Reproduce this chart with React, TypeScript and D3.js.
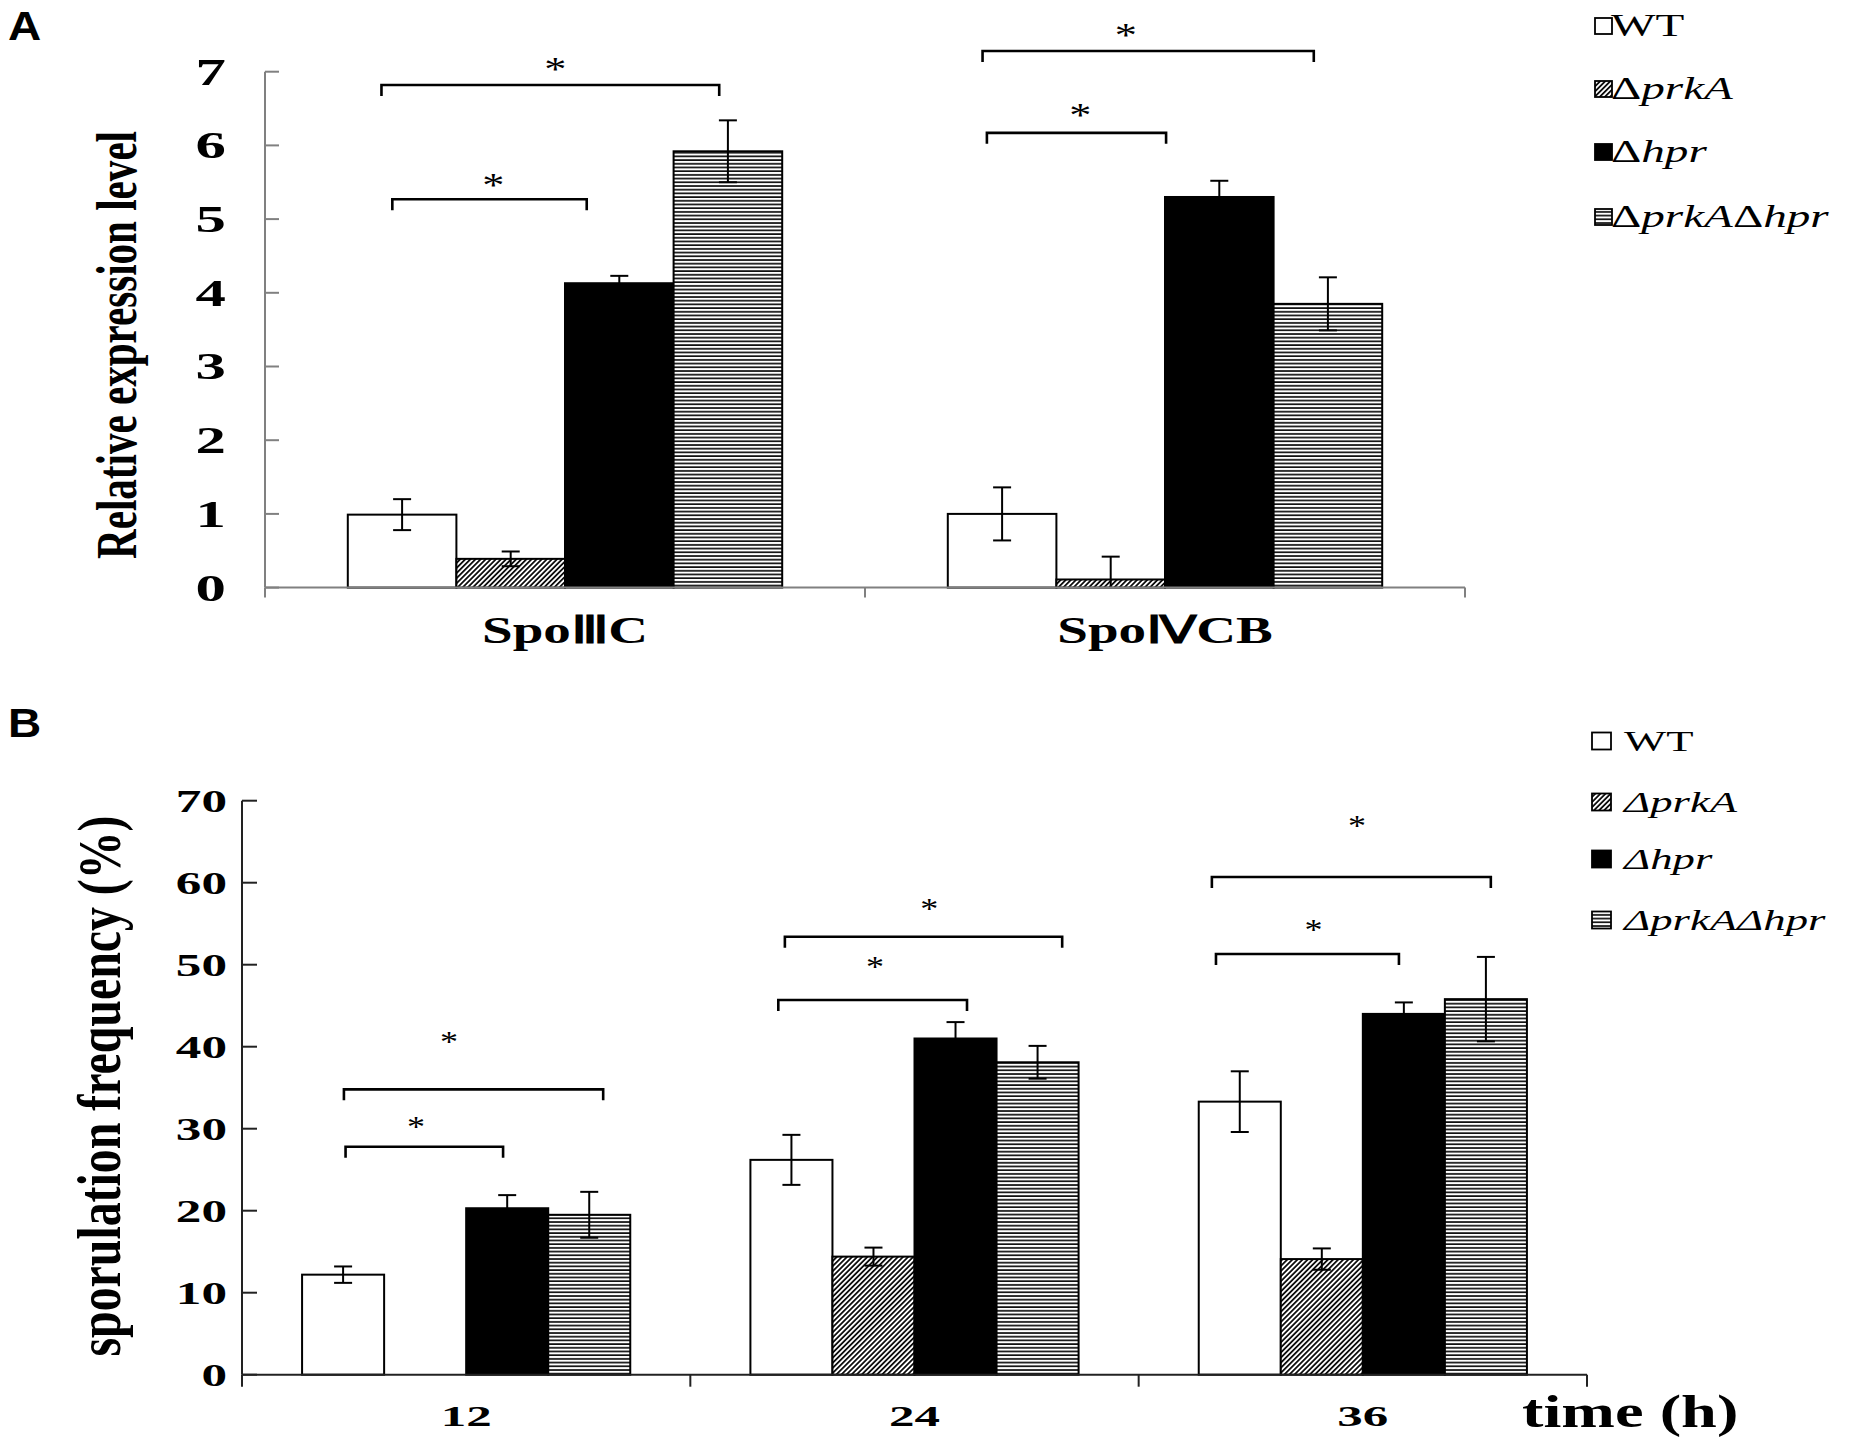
import React from 'react';
import * as d3 from 'd3';

// strains (legend order)
const strains = ["WT", "ΔprkA", "Δhpr", "ΔprkAΔhpr"];

// panel A: relative expression
const genes = ["SpoⅢC", "SpoⅣCB"];
const exprWT = [0.99, 1.0];
const exprPrkA = [0.39, 0.11];
const exprHpr = [4.13, 5.3];
const exprDouble = [5.92, 3.85];
const exprErrWT = [0.21, 0.36];
const exprErrPrkA = [0.1, 0.31];
const exprErrHpr = [0.1, 0.22];
const exprErrDouble = [0.42, 0.36];
const exprTicks = [0, 1, 2, 3, 4, 5, 6, 7];

// panel B: sporulation frequency
const times = ["12", "24", "36"];
const sporWT = [12.2, 26.2, 33.3];
const sporPrkA = [0, 14.4, 14.1];
const sporHpr = [20.3, 41.0, 44.0];
const sporDouble = [19.5, 38.1, 45.8];
const sporErrWT = [1.0, 3.05, 3.7];
const sporErrPrkA = [0, 1.1, 1.3];
const sporErrHpr = [1.6, 2.0, 1.4];
const sporErrDouble = [2.8, 2.0, 5.15];
const sporTicks = [0, 10, 20, 30, 40, 50, 60, 70];

// significance brackets: group, span in bar units, bracket level, star level, star position
const bracketsA = [
  { g: 0, from: 0.31, to: 3.42, level: 6.82, star: 7.12, sx: 1.91 },
  { g: 0, from: 0.41, to: 2.2, level: 5.27, star: 5.55, sx: 1.34 },
  { g: 1, from: 0.32, to: 3.37, level: 7.28, star: 7.58, sx: 1.64 },
  { g: 1, from: 0.36, to: 2.01, level: 6.17, star: 6.5, sx: 1.22 },
];
const bracketsB = [
  { g: 0, from: 0.51, to: 3.67, level: 34.8, star: 41.3, sx: 1.79 },
  { g: 0, from: 0.53, to: 2.45, level: 27.8, star: 31.0, sx: 1.39 },
  { g: 1, from: 0.42, to: 3.8, level: 53.4, star: 57.5, sx: 2.18 },
  { g: 1, from: 0.34, to: 2.64, level: 45.7, star: 50.5, sx: 1.52 },
  { g: 2, from: 0.16, to: 3.56, level: 60.7, star: 67.6, sx: 1.93 },
  { g: 2, from: 0.21, to: 2.44, level: 51.3, star: 55.0, sx: 1.4 },
];

const fills = ["#ffffff", "url(#hatchDiag)", "#000000", "url(#hatchHoriz)"];
const SERIF = "'Liberation Serif', 'Times New Roman', serif";
const SANS = "'Liberation Sans', Arial, sans-serif";

type TxtProps = {
  x: number; y: number; sx?: number; size: number; anchor?: string;
  weight?: string | number; italic?: boolean; family?: string; rot?: boolean;
  len?: number; children: React.ReactNode;
};
const Txt = ({ x, y, sx = 1, size, anchor = "start", weight = "normal", italic, family = SERIF, rot, len, children }: TxtProps) => (
  <text
    transform={`translate(${x},${y}) scale(${sx},1)${rot ? " rotate(-90)" : ""}`}
    fontSize={size}
    fontFamily={family}
    fontWeight={weight}
    fontStyle={italic ? "italic" : "normal"}
    textAnchor={anchor}
    fill="#000"
    {...(len ? { textLength: len, lengthAdjust: "spacingAndGlyphs" } : {})}
  >
    {children}
  </text>
);

type PanelProps = {
  cats: string[];
  values: number[][];
  errors: number[][];
  brackets: typeof bracketsA;
  ticks: number[];
  x: d3.ScaleBand<string>;
  y: d3.ScaleLinear<number, number>;
  axisColor: string;
  yTickLen: number;
  xTickLen: number;
  tickRight: number;
  tickSize: number;
  tickSx: number;
  catY: number;
  catSize: number;
  catSx: number;
  starSize: number;
  starSx: number;
};

const Panel = (p: PanelProps) => {
  const { x, y } = p;
  const sub = d3.scaleBand<string>().domain(strains).range([0, x.bandwidth()]);
  const bw = sub.bandwidth();
  const y0 = y(0);
  const [r0] = x.range();
  const bounds = d3.range(p.cats.length + 1).map(i => r0 + i * x.step());
  const yTop = y(p.ticks[p.ticks.length - 1]);
  return (
    <g>
      {/* bars */}
      {p.cats.map((c, ci) =>
        strains.map((s, si) => {
          const v = p.values[si][ci];
          if (v <= 0) return null;
          return (
            <rect key={c + s} x={(x(c) as number) + (sub(s) as number)} y={y(v)}
              width={bw} height={y0 - y(v)} fill={fills[si]} stroke="#000" strokeWidth={2} />
          );
        })
      )}
      {/* error bars */}
      {p.cats.map((c, ci) =>
        strains.map((s, si) => {
          const v = p.values[si][ci];
          const e = p.errors[si][ci];
          if (!e) return null;
          const cx = (x(c) as number) + (sub(s) as number) + bw / 2;
          const lo = Math.max(0, v - e);
          return (
            <g key={"e" + c + s} stroke="#000" strokeWidth={2}>
              <line x1={cx} x2={cx} y1={y(v + e)} y2={y(lo)} />
              <line x1={cx - 9} x2={cx + 9} y1={y(v + e)} y2={y(v + e)} />
              {lo > 0 && <line x1={cx - 9} x2={cx + 9} y1={y(lo)} y2={y(lo)} />}
            </g>
          );
        })
      )}
      {/* axes */}
      <g stroke={p.axisColor} strokeWidth={2} fill="none">
        <line x1={bounds[0]} x2={bounds[0]} y1={yTop} y2={y0} />
        <line x1={bounds[0]} x2={bounds[bounds.length - 1]} y1={y0} y2={y0} />
        {p.ticks.map(t => (
          <line key={t} x1={bounds[0]} x2={bounds[0] + p.yTickLen} y1={y(t)} y2={y(t)} />
        ))}
        {bounds.map((b, i) => (
          <line key={i} x1={b} x2={b} y1={y0} y2={y0 + p.xTickLen} />
        ))}
      </g>
      {p.ticks.map(t => (
        <Txt key={t} x={p.tickRight} y={y(t) + p.tickSize * 0.34} sx={p.tickSx} size={p.tickSize}
          anchor="end" weight="bold">{t}</Txt>
      ))}
      {p.cats.map(c => (
        <Txt key={c} x={(x(c) as number) + x.bandwidth() / 2} y={p.catY} sx={p.catSx} size={p.catSize}
          anchor="middle" weight="bold">{c}</Txt>
      ))}
      {/* significance brackets */}
      {p.brackets.map((b, i) => {
        const gx = x(p.cats[b.g]) as number;
        const x1 = gx + b.from * bw;
        const x2 = gx + b.to * bw;
        const by = y(b.level);
        return (
          <g key={"b" + i}>
            <path d={`M${x1},${by + 11}V${by}H${x2}V${by + 11}`} fill="none" stroke="#000" strokeWidth={2.6} />
            <Txt x={gx + b.sx * bw} y={y(b.star) + p.starSize * 0.5} sx={p.starSx} size={p.starSize}
              anchor="middle">*</Txt>
          </g>
        );
      })}
    </g>
  );
};

const Legend = ({ x, tx, rows, size, sx, bwid, bh, italicDelta }: {
  x: number; tx: number; rows: number[]; size: number; sx: number; bwid: number; bh: number; italicDelta: boolean;
}) => {
  const parts = (name: string) => {
    if (name === "WT") return [<tspan key="w">WT</tspan>];
    return name.split(/(Δ)/).filter(Boolean).map((t, i) => (
      <tspan key={i} fontStyle={t === "Δ" && !italicDelta ? "normal" : "italic"}>{t}</tspan>
    ));
  };
  return (
    <g>
      {strains.map((s, i) => (
        <g key={s}>
          <rect x={x} y={rows[i] - bh / 2} width={bwid} height={bh} fill={fills[i]} stroke="#000" strokeWidth={1.8} />
          <Txt x={tx} y={rows[i] + size * 0.33} sx={sx} size={size}>{parts(s)}</Txt>
        </g>
      ))}
    </g>
  );
};

export default function App() {
  const xA = d3.scaleBand<string>().domain(genes).range([265, 1465]).paddingInner(0.276).paddingOuter(0.138);
  const yA = d3.scaleLinear().domain([0, 7]).range([587.6, 71.7]);
  const xB = d3.scaleBand<string>().domain(times).range([242, 1587]).paddingInner(0.268).paddingOuter(0.134);
  const yB = d3.scaleLinear().domain([0, 70]).range([1374.7, 800.7]);

  return (
    <svg width={1866} height={1445} style={{ position: "absolute", left: 0, top: 0, background: "#fff" }}>
      <defs>
        <pattern id="hatchDiag" width={3.6} height={3.6} patternUnits="userSpaceOnUse" patternTransform="rotate(45)">
          <rect width={3.6} height={3.6} fill="#fff" />
          <line x1={0.9} y1={0} x2={0.9} y2={3.6} stroke="#000" strokeWidth={1.7} />
        </pattern>
        <pattern id="hatchHoriz" width={4} height={3.7} patternUnits="userSpaceOnUse">
          <rect width={4} height={3.7} fill="#fff" />
          <line x1={0} y1={1} x2={4} y2={1} stroke="#000" strokeWidth={1.6} />
        </pattern>
      </defs>
      <rect width={1866} height={1445} fill="#fff" />

      {/* panel A */}
      <Txt x={8} y={40} sx={1.15} size={40} weight="bold" family={SANS}>A</Txt>
      <Txt x={136} y={345} sx={1.4} size={40} weight="bold" anchor="middle" rot len={428}>Relative expression level</Txt>
      <Panel
        cats={genes}
        values={[exprWT, exprPrkA, exprHpr, exprDouble]}
        errors={[exprErrWT, exprErrPrkA, exprErrHpr, exprErrDouble]}
        brackets={bracketsA}
        ticks={exprTicks}
        x={xA} y={yA}
        axisColor="#808080" yTickLen={14} xTickLen={10}
        tickRight={226} tickSize={38} tickSx={1.6}
        catY={643} catSize={38} catSx={1.45}
        starSize={34} starSx={1.3}
      />
      <Legend x={1595} tx={1611} rows={[26, 89, 152, 217]} size={31} sx={1.52} bwid={17} bh={16} italicDelta={false} />

      {/* panel B */}
      <Txt x={8} y={737} sx={1.15} size={40} weight="bold" family={SANS}>B</Txt>
      <Txt x={120} y={1086} sx={1.4} size={44} weight="bold" anchor="middle" rot len={541}>sporulation frequency (%)</Txt>
      <Panel
        cats={times}
        values={[sporWT, sporPrkA, sporHpr, sporDouble]}
        errors={[sporErrWT, sporErrPrkA, sporErrHpr, sporErrDouble]}
        brackets={bracketsB}
        ticks={sporTicks}
        x={xB} y={yB}
        axisColor="#222" yTickLen={15} xTickLen={12}
        tickRight={227} tickSize={32} tickSx={1.6}
        catY={1426} catSize={30} catSx={1.7}
        starSize={30} starSx={1.2}
      />
      <Txt x={1522} y={1427} sx={1.4} size={46} weight="bold">time (h)</Txt>
      <Legend x={1592} tx={1624} rows={[741, 802, 859, 920]} size={30} sx={1.49} bwid={19} bh={17} italicDelta={true} />
    </svg>
  );
}
